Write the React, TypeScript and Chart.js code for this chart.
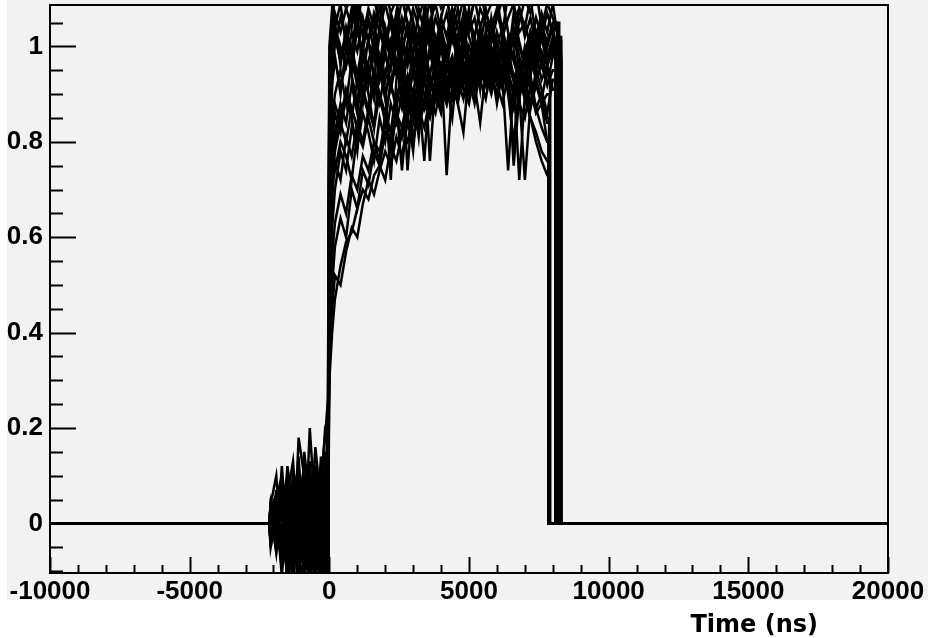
import { useEffect, useRef } from 'react';
import { Chart, registerables } from 'chart.js';

Chart.register(...registerables);

// ---- axis ranges / ticks ----
const X_MIN = -10000;
const X_MAX = 20000;
const Y_MIN = -0.104;
const Y_MAX = 1.087;
const X_MINOR_STEP = 1000;
const X_LABEL_STEP = 5000;
const Y_MINOR_STEP = 0.05;
const Y_LABEL_STEP = 0.2;
const X_TITLE = 'Time (ns)';

// flat baseline ends here, noise begins
const BASELINE_END = -2150;

// common sampling times (ns)
const TIMES = [
  -2100, -1900, -1700, -1500, -1300, -1100, -900, -700, -500, -300, -150, -50,
  0, 100, 200, 400, 600, 800, 1000, 1200, 1400, 1600,
  1800, 2000, 2200, 2400, 2600, 2800, 3000, 3200, 3400, 3600,
  3800, 4000, 4200, 4400, 4600, 4800, 5000, 5200, 5400, 5600,
  5800, 6000, 6200, 6400, 6600, 6800, 7000, 7200, 7400, 7600,
  7800, 8000, 8200,
];

// each trace: 12 pre-pulse values, then values from t=0 onward
const TRACE_1 = [
  0.02, -0.03, 0.04, -0.08, 0.06, -0.03, 0.08, -0.12, 0.05, 0.1, 0.18, 0.26,
  0.95, 1.06, 1.1, 1.12, 1.08, 1.1, 1.04, 1.12, 1.09, 1.1,
  1.05, 1.12, 1.07, 1.1, 1.02, 1.09, 1.11, 1.06, 1.1, 1.03,
  1.12, 1.08, 1.1, 1.05, 1.11, 1.09, 1.04, 1.1, 1.12, 1.06,
  1.09, 1.1, 1.03, 1.11, 1.08, 1.05, 1.1, 1.07, 1.12, 1.04,
  1.09, 1.06, 1.02,
];
const TRACE_2 = [
  -0.02, 0.04, -0.1, 0.03, -0.15, 0.08, -0.06, 0.12, -0.09, 0.04, -0.14, 0.1,
  0.85, 1.0, 1.04, 0.98, 1.02, 0.95, 1.05, 0.97, 1.01, 0.93,
  1.03, 0.99, 1.06, 0.96, 1.0, 1.04, 0.94, 1.02, 0.98, 1.05,
  0.97, 1.01, 0.95, 1.03, 0.99, 1.06, 0.96, 1.02, 0.93, 1.0,
  1.04, 0.97, 1.01, 0.95, 1.03, 0.98, 0.92, 1.0, 0.96, 1.02,
  0.97, 1.01, 0.99,
];
const TRACE_3 = [
  0.03, -0.05, 0.12, -0.04, 0.02, -0.12, 0.06, -0.02, 0.09, -0.15, 0.05, -0.12,
  0.7, 0.92, 0.98, 0.9, 1.0, 0.94, 0.88, 0.99, 0.92, 1.02,
  0.95, 0.89, 0.97, 1.01, 0.93, 0.86, 0.98, 0.94, 1.03, 0.9,
  0.96, 1.0, 0.92, 0.85, 0.97, 1.01, 0.94, 0.99, 0.91, 1.03,
  0.96, 0.88, 0.95, 1.0, 0.93, 0.97, 0.9, 0.99, 0.94, 0.96,
  0.92, 0.98, 0.95,
];
const TRACE_4 = [
  -0.04, 0.03, -0.11, 0.08, -0.02, 0.14, -0.07, 0.04, -0.13, 0.07, -0.05, -0.15,
  0.55, 0.75, 0.82, 0.88, 0.84, 0.92, 0.86, 0.95, 0.9, 0.83,
  0.96, 0.91, 0.72, 0.93, 0.98, 0.88, 0.95, 0.9, 1.0, 0.94,
  0.89, 0.97, 0.73, 0.92, 0.99, 0.95, 0.9, 1.01, 0.96, 0.92,
  0.98, 0.93, 1.0, 0.95, 0.9, 0.97, 0.93, 0.88, 0.95, 0.91,
  0.86, 0.93, 0.9,
];
const TRACE_5 = [
  0.04, 0.1, -0.05, 0.12, 0.02, -0.09, 0.15, 0.05, -0.1, 0.02, -0.15, -0.18,
  0.45, 0.7, 0.8, 0.86, 0.9, 0.85, 0.93, 0.88, 0.96, 0.9,
  0.94, 0.99, 0.92, 0.87, 0.95, 0.74, 0.9, 0.97, 0.93, 1.0,
  0.95, 0.91, 0.98, 0.94, 1.02, 0.96, 0.92, 0.99, 0.95, 1.01,
  0.94, 0.98, 0.92, 0.96, 0.75, 0.9, 0.95, 0.99, 0.93, 0.88,
  0.8,
];
const TRACE_6 = [
  0.0, -0.04, 0.06, -0.1, 0.11, 0.03, -0.08, 0.2, 0.02, -0.12, 0.08, 0.15,
  0.3, 0.4, 0.47, 0.54, 0.59, 0.61, 0.66, 0.7, 0.68, 0.73,
  0.75, 0.72, 0.79, 0.76, 0.82, 0.8, 0.86, 0.83, 0.88, 0.85,
  0.9, 0.87, 0.92, 0.89, 0.94, 0.91, 0.88, 0.95, 0.92, 0.97,
  0.93, 0.9, 0.96, 0.92, 0.88, 0.94, 0.9, 0.85, 0.82, 0.78,
  0.76,
];
const TRACE_7 = [
  -0.03, 0.05, -0.07, 0.02, 0.09, -0.11, 0.04, 0.13, -0.04, 0.06, 0.2, 0.22,
  0.35, 0.45, 0.52, 0.5, 0.57, 0.62, 0.6, 0.67, 0.72, 0.69,
  0.74, 0.78, 0.75, 0.81, 0.77, 0.84, 0.8, 0.87, 0.83, 0.89,
  0.86, 0.92, 0.88, 0.95, 0.9, 0.96, 0.93, 0.98, 0.95, 0.92,
  0.97, 0.94, 1.0, 0.96, 0.93, 0.72, 0.9, 0.95, 0.98, 0.93,
  0.96, 0.91,
];
const TRACE_8 = [
  0.03, -0.06, 0.08, -0.14, 0.04, 0.1, -0.06, 0.02, 0.07, -0.18, -0.2, -0.25,
  0.6, 0.85, 0.9, 0.95, 0.88, 0.97, 0.92, 1.0, 0.94, 0.89,
  0.98, 0.93, 1.01, 0.96, 0.9, 0.99, 0.94, 1.02, 0.97, 0.76,
  0.93, 1.0, 0.95, 0.98, 0.92, 1.03, 0.97, 0.94, 1.0, 0.96,
  0.91, 0.99, 0.95, 1.02, 0.97, 0.93, 0.99, 0.95, 1.01, 0.96,
  0.98, 1.02, 0.97,
];
const TRACE_9 = [
  0.01, 0.04, -0.03, 0.07, -0.12, 0.05, 0.1, -0.1, 0.03, 0.12, 0.05, -0.1,
  0.9, 1.02, 1.07, 1.03, 1.08, 1.04, 1.1, 1.05, 1.01, 1.07,
  1.03, 1.09, 1.04, 1.0, 1.06, 1.02, 1.08, 1.04, 0.99, 1.05,
  1.09, 1.03, 1.07, 1.01, 1.05, 1.1, 1.03, 1.06, 1.0, 1.07,
  1.04, 1.08, 1.02, 1.06, 1.09, 1.03, 1.05, 1.0, 1.06, 1.02,
  1.07, 1.03, 1.05,
];
const TRACE_10 = [
  -0.04, 0.02, 0.05, -0.06, 0.03, -0.16, 0.09, -0.03, 0.16, 0.04, -0.08, -0.2,
  0.5, 0.72, 0.78, 0.84, 0.8, 0.87, 0.83, 0.9, 0.86, 0.92,
  0.88, 0.95, 0.91, 0.97, 0.93, 0.89, 0.96, 0.92, 0.98, 0.94,
  1.0, 0.95, 0.91, 0.97, 0.93, 0.99, 0.96, 0.92, 0.84, 0.95,
  1.0, 0.96, 0.93, 0.98, 0.94, 0.9, 0.72, 0.88, 0.93, 0.97,
  0.92, 0.95,
];
const TRACE_11 = [
  0.04, -0.02, 0.1, 0.03, -0.07, 0.07, 0.02, -0.15, 0.1, -0.05, 0.12, 0.05,
  0.8, 0.97, 1.05, 0.96, 1.04, 0.99, 1.08, 0.93, 1.02, 1.06,
  0.95, 1.03, 0.98, 1.07, 0.94, 1.01, 1.05, 0.97, 1.08, 1.0,
  0.94, 1.04, 0.99, 1.07, 0.96, 1.02, 1.08, 0.98, 1.03, 0.95,
  1.06, 1.0, 1.04, 0.97, 1.07, 1.01, 0.96, 1.03, 0.99, 1.05,
  0.98, 1.0,
];
const TRACE_12 = [
  -0.05, 0.04, -0.02, 0.1, -0.05, 0.06, -0.11, 0.09, -0.07, 0.14, 0.03, -0.16,
  0.4, 0.62, 0.7, 0.78, 0.74, 0.83, 0.79, 0.86, 0.82, 0.76,
  0.85, 0.8, 0.88, 0.84, 0.9, 0.86, 0.78, 0.92, 0.88, 0.94,
  0.9, 0.86, 0.93, 0.96, 0.91, 0.97, 0.93, 0.88, 0.95, 0.99,
  0.94, 0.9, 0.96, 0.91, 0.87, 0.93, 0.89, 0.85, 0.8, 0.76,
  0.73,
];
const TRACE_13 = [
  0.03, 0.06, -0.04, -0.1, 0.06, 0.12, 0.0, 0.06, -0.12, 0.1, 0.08, 0.2,
  1.0, 1.08, 1.04, 1.09, 1.0, 1.06, 1.1, 1.02, 1.08, 1.04,
  1.11, 1.0, 1.07, 1.03, 1.1, 1.05, 0.98, 1.08, 1.03, 1.1,
  1.0, 1.06, 1.11, 1.02, 1.08, 0.99, 1.05, 1.1, 1.04, 1.08,
  1.01, 1.06, 1.1, 1.03, 1.0, 1.08, 1.04, 1.1, 1.02, 1.07,
  1.03, 1.09, 1.01,
];
const TRACE_14 = [
  0.02, -0.06, 0.06, 0.0, -0.04, 0.04, 0.12, -0.09, 0.05, -0.02, 0.1, -0.13,
  0.65, 0.8, 0.86, 0.82, 0.9, 0.85, 0.78, 0.91, 0.87, 0.95,
  0.9, 0.84, 0.93, 0.97, 0.89, 0.94, 0.9, 0.81, 0.95, 0.99,
  0.93, 0.88, 0.96, 0.92, 0.98, 0.94, 0.9, 0.97, 1.0, 0.95,
  0.91, 0.97, 0.93, 0.74, 0.92, 0.96, 0.9, 0.94, 0.87, 0.9,
  0.85,
];
const TRACE_15 = [
  -0.04, 0.07, -0.06, 0.05, -0.1, 0.18, 0.1, -0.05, 0.0, -0.1, -0.12, -0.18,
  0.35, 0.5, 0.58, 0.64, 0.6, 0.7, 0.66, 0.74, 0.71, 0.78,
  0.75, 0.82, 0.79, 0.85, 0.81, 0.88, 0.84, 0.9, 0.76, 0.93,
  0.89, 0.95, 0.91, 0.97, 0.93, 0.99, 0.95, 1.01, 0.96, 0.92,
  0.98, 0.94, 1.0, 0.96, 0.99, 0.93, 0.97, 1.01, 0.95, 0.99,
  0.96, 1.0, 0.97,
];
const TRACE_16 = [
  0.0, 0.05, 0.1, -0.03, -0.09, 0.02, 0.08, 0.1, -0.06, 0.06, -0.1, 0.15,
  0.88, 0.99, 1.03, 0.97, 1.01, 0.95, 1.04, 0.98, 0.93, 1.0,
  0.96, 1.04, 0.99, 0.94, 1.02, 0.97, 1.05, 0.93, 0.99, 1.03,
  0.96, 1.01, 0.97, 0.92, 1.0, 1.04, 0.98, 0.94, 1.02, 0.97,
  1.05, 0.99, 0.95, 1.01, 0.97, 0.93, 1.0, 0.96, 1.03, 0.98,
  0.94,
];
const TRACE_17 = [
  0.04, -0.04, 0.09, -0.13, 0.05, 0.0, -0.1, 0.07, 0.11, -0.06, 0.02, -0.2,
  0.6, 0.78, 0.74, 0.8, 0.77, 0.72, 0.82, 0.79, 0.85, 0.8,
  0.76, 0.86, 0.82, 0.88, 0.74, 0.87, 0.91, 0.85, 0.93, 0.88,
  0.92, 0.96, 0.9, 0.94, 0.98, 0.92, 0.96, 1.0, 0.93, 0.97,
  0.92, 0.95, 0.99, 0.94, 0.9, 0.96, 0.92, 0.98, 0.93, 0.89,
  0.95, 0.91,
];
const TRACE_18 = [
  -0.03, 0.05, 0.01, -0.05, 0.09, -0.13, 0.03, 0.1, -0.04, -0.12, 0.15, 0.05,
  0.75, 0.93, 0.97, 0.92, 0.96, 1.0, 0.94, 0.9, 0.97, 1.01,
  0.93, 0.98, 0.95, 1.02, 0.96, 0.91, 0.99, 1.03, 0.95, 0.98,
  1.02, 0.94, 0.99, 1.03, 0.96, 0.93, 1.0, 0.97, 1.04, 0.98,
  0.94, 1.01, 0.97, 0.99, 1.03, 0.95, 0.98, 0.94, 0.99, 1.02,
  0.96, 0.99, 0.95,
];
const TRACE_19 = [
  0.02, 0.06, -0.05, 0.04, -0.08, 0.09, 0.05, -0.14, 0.02, 0.08, -0.2, -0.1,
  0.5, 0.68, 0.76, 0.72, 0.81, 0.77, 0.84, 0.8, 0.87, 0.83,
  0.9, 0.86, 0.82, 0.91, 0.87, 0.93, 0.8, 0.89, 0.95, 0.91,
  0.97, 0.92, 0.88, 0.95, 0.99, 0.93, 0.96, 0.9, 0.98, 0.94,
  0.99, 0.95, 0.91, 0.97, 0.93, 0.88, 0.85, 0.92, 0.87, 0.83,
  0.8,
];
const TRACE_20 = [
  0.01, -0.05, 0.03, 0.1, -0.02, -0.09, 0.06, 0.02, 0.1, -0.07, -0.16, 0.08,
  0.92, 1.04, 1.0, 1.06, 1.02, 1.08, 1.03, 0.99, 1.06, 1.02,
  1.08, 1.04, 1.0, 1.07, 1.03, 1.09, 1.05, 1.01, 1.07, 1.03,
  0.99, 1.06, 1.02, 1.08, 1.04, 1.0, 1.06, 1.02, 1.08, 1.05,
  1.01, 1.07, 1.03, 0.99, 1.05, 1.08, 1.02, 1.06, 1.0, 1.04,
  1.01, 1.05,
];
const TRACE_21 = [
  -0.02, 0.03, 0.07, -0.09, 0.0, 0.06, -0.12, -0.03, 0.12, 0.0, 0.1, 0.18,
  0.42, 0.56, 0.63, 0.69, 0.65, 0.73, 0.7, 0.77, 0.74, 0.8,
  0.78, 0.84, 0.8, 0.86, 0.83, 0.89, 0.85, 0.91, 0.87, 0.93,
  0.89, 0.95, 0.91, 0.97, 0.93, 0.89, 0.96, 0.92, 0.98, 0.94,
  0.9, 0.96, 0.92, 0.97, 0.93, 0.89, 0.95, 0.91, 0.86, 0.88,
  0.84,
];
const TRACE_22 = [
  0.04, -0.01, -0.08, 0.06, 0.13, -0.04, 0.09, -0.1, 0.06, 0.05, -0.05, -0.22,
  0.82, 0.96, 1.02, 0.97, 1.03, 0.98, 0.94, 1.01, 1.05, 0.99,
  0.95, 1.02, 0.97, 1.04, 1.0, 0.96, 1.03, 0.98, 1.05, 1.01,
  0.97, 1.03, 0.99, 0.93, 0.88, 0.82, 0.95, 1.01, 0.97, 1.03,
  0.99, 0.95, 1.02, 0.98, 1.04, 1.0, 0.96, 1.03, 0.99, 1.05,
  1.0, 1.04, 0.98,
];
const TRACE_23 = [
  -0.05, 0.02, 0.06, -0.02, 0.08, -0.05, 0.04, 0.0, -0.15, 0.11, 0.07, 0.12,
  0.62, 0.82, 0.88, 0.84, 0.91, 0.87, 0.83, 0.9, 0.86, 0.93,
  0.89, 0.85, 0.92, 0.88, 0.95, 0.91, 0.87, 0.94, 0.9, 0.86,
  0.93, 0.89, 0.96, 0.92, 0.88, 0.95, 0.91, 0.97, 0.93, 0.89,
  0.96, 0.92, 0.88, 0.94, 0.9, 0.95, 0.91, 0.87, 0.92, 0.88,
  0.9,
];
const TRACE_24 = [
  0.03, 0.05, -0.09, -0.03, 0.07, 0.08, -0.04, -0.08, 0.04, 0.09, -0.03, -0.14,
  0.8, 0.98, 1.04, 1.0, 0.96, 1.03, 0.99, 1.06, 1.01, 0.97,
  1.04, 1.0, 1.06, 1.02, 0.98, 1.05, 1.01, 0.97, 1.04, 1.0,
  1.06, 1.02, 0.98, 1.05, 1.01, 1.07, 1.02, 0.98, 1.04, 1.0,
  0.96, 1.03, 0.99, 0.9, 0.8, 0.92, 0.99, 1.03, 0.97, 1.02,
  0.98, 1.01,
];

const TRACES = [
  TRACE_1, TRACE_2, TRACE_3, TRACE_4, TRACE_5, TRACE_6, TRACE_7, TRACE_8,
  TRACE_9, TRACE_10, TRACE_11, TRACE_12, TRACE_13, TRACE_14, TRACE_15, TRACE_16,
  TRACE_17, TRACE_18, TRACE_19, TRACE_20, TRACE_21, TRACE_22, TRACE_23, TRACE_24,
];
// time at which each pulse falls back to zero (ns)
const END_TIMES = [
  8300, 8230, 8160, 8100, 7870, 7840, 8100, 8300,
  8230, 8160, 8100, 7880, 8300, 7870, 8230, 7900,
  8100, 8230, 7840, 8160, 7870, 8300, 7900, 8100,
];

function buildTrace(vals: number[], end: number) {
  const pts: { x: number; y: number }[] = [
    { x: X_MIN, y: 0 },
    { x: BASELINE_END, y: 0 },
  ];
  for (let j = 0; j < vals.length && j < TIMES.length; j++) {
    if (TIMES[j] >= end) break;
    pts.push({ x: TIMES[j], y: vals[j] });
  }
  const last = pts[pts.length - 1].y;
  pts.push({ x: end, y: last });
  pts.push({ x: end, y: 0 });
  pts.push({ x: X_MAX, y: 0 });
  return pts;
}

const isMultiple = (v: number, step: number) => {
  const r = v / step;
  return Math.abs(r - Math.round(r)) < 1e-6;
};

const TICK_FONT = '"Liberation Sans", Arial, Helvetica, sans-serif';
const TITLE_FONT = '"DejaVu Sans", Verdana, sans-serif';

const backgroundPlugin = {
  id: 'rootBackground',
  beforeDraw(chart: any) {
    const ctx = chart.ctx;
    ctx.save();
    ctx.fillStyle = '#ffffff';
    ctx.fillRect(0, 0, chart.width, chart.height);
    ctx.fillStyle = '#f2f2f2';
    ctx.fillRect(7, 0, chart.width - 7, 600);
    ctx.restore();
  },
};

const framePlugin = {
  id: 'rootFrame',
  afterDatasetsDraw(chart: any) {
    const ctx = chart.ctx;
    const { left, right, top, bottom } = chart.chartArea;
    ctx.save();
    ctx.strokeStyle = '#000';
    ctx.lineWidth = 2;
    ctx.strokeRect(left, top, right - left, bottom - top);
    const xs = chart.scales.x;
    ctx.beginPath();
    xs.ticks.forEach((t: any) => {
      const px = Math.round(xs.getPixelForValue(t.value)) + 0.5;
      const len = isMultiple(t.value, X_LABEL_STEP) ? 16 : 8;
      ctx.moveTo(px, bottom);
      ctx.lineTo(px, bottom - len);
    });
    const ys = chart.scales.y;
    ys.ticks.forEach((t: any) => {
      const py = Math.round(ys.getPixelForValue(t.value)) + 0.5;
      const len = isMultiple(t.value, Y_LABEL_STEP) ? 26 : 13;
      ctx.moveTo(left, py);
      ctx.lineTo(left + len, py);
    });
    ctx.lineWidth = 2;
    ctx.stroke();
    ctx.fillStyle = '#000';
    ctx.font = `bold 24px ${TITLE_FONT}`;
    ctx.textAlign = 'right';
    ctx.textBaseline = 'alphabetic';
    ctx.fillText(X_TITLE, 818, 632);
    ctx.restore();
  },
};

export default function App() {
  const ref = useRef<HTMLCanvasElement>(null);
  useEffect(() => {
    const datasets = TRACES.map((vals, i) => ({
      label: `trace ${i + 1}`,
      data: buildTrace(vals, END_TIMES[i]),
      borderColor: '#000000',
      backgroundColor: '#000000',
      borderWidth: 2.5,
      pointRadius: 0,
      tension: 0,
      fill: false,
    }));
    const chart = new Chart(ref.current!, {
      type: 'line',
      data: { datasets },
      options: {
        animation: false,
        responsive: false,
        devicePixelRatio: 1,
        events: [],
        layout: { padding: { left: 0, top: 5, right: 40, bottom: 0 } },
        scales: {
          x: {
            type: 'linear',
            min: X_MIN,
            max: X_MAX,
            grid: { display: false, drawTicks: false },
            border: { display: false },
            afterFit: (s: any) => {
              s.height = 65;
              s.paddingLeft = 0;
              s.paddingRight = 0;
            },
            ticks: {
              stepSize: X_MINOR_STEP,
              autoSkip: false,
              includeBounds: false,
              maxRotation: 0,
              padding: 3,
              color: '#000',
              font: { family: TICK_FONT, size: 26, weight: 'bold' },
              callback: (v: any) => (isMultiple(Number(v), X_LABEL_STEP) ? String(Math.round(Number(v))) : ''),
            },
          },
          y: {
            type: 'linear',
            min: Y_MIN,
            max: Y_MAX,
            grid: { display: false, drawTicks: false },
            border: { display: false },
            afterFit: (s: any) => {
              s.width = 50;
              s.paddingTop = 0;
              s.paddingBottom = 0;
            },
            ticks: {
              stepSize: Y_MINOR_STEP,
              autoSkip: false,
              includeBounds: false,
              padding: 7,
              color: '#000',
              font: { family: TICK_FONT, size: 26, weight: 'bold' },
              callback: (v: any) => {
                const n = Number(v);
                if (!isMultiple(n, Y_LABEL_STEP)) return '';
                return String(Number(n.toFixed(2)));
              },
            },
          },
        },
        plugins: {
          legend: { display: false },
          tooltip: { enabled: false },
          title: { display: false },
        },
      } as any,
      plugins: [backgroundPlugin, framePlugin],
    });
    return () => chart.destroy();
  }, []);
  return (
    <div style={{ position: 'absolute', left: 0, top: 0, width: 928, height: 638, background: '#fff' }}>
      <canvas ref={ref} width={928} height={638} style={{ display: 'block', width: 928, height: 638 }} />
    </div>
  );
}
